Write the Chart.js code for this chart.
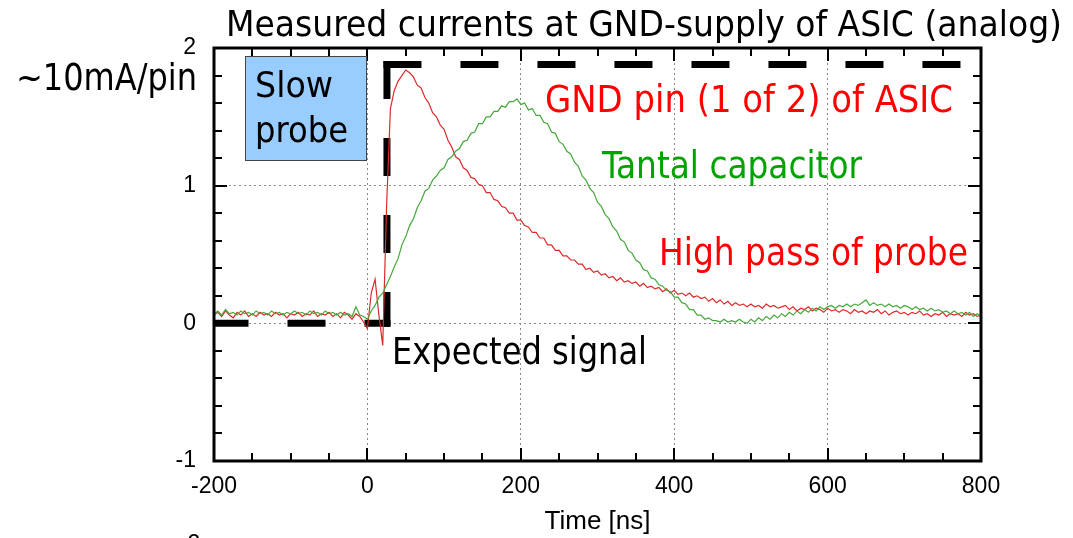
<!DOCTYPE html>
<html>
<head>
<meta charset="utf-8">
<script src="https://cdn.jsdelivr.net/npm/chart.js@4.4.1/dist/chart.umd.min.js"></script>
<style>
  html, body { margin: 0; padding: 0; background: #fff; }
  #wrap { width: 1073px; height: 538px; position: relative; }
</style>
</head>
<body>
<div id="wrap"><canvas id="chart" width="1073" height="538"></canvas></div>
<script>
// sample grid of the scope traces (ns)
const tStart = -200;
const tStep = 5;

// GND pin (1 of 2) of ASIC, every 5 ns
const gndPin = [
  0.06,0.08,0.05,0.09,0.06,0.04,0.08,0.06,0.09,0.05,
  0.07,0.05,0.08,0.06,0.07,0.05,0.08,0.06,0.07,0.04,
  0.07,0.06,0.08,0.05,0.07,0.06,0.09,0.05,0.07,0.06,
  0.08,0.05,0.07,0.04,0.08,0.06,0.03,0.07,0.05,0.01,
  -0.04,0.22,0.32,0.06,-0.16,0.85,1.56,1.69,1.76,1.80,
  1.84,1.82,1.79,1.73,1.71,1.64,1.60,1.53,1.50,1.44,
  1.41,1.33,1.28,1.21,1.19,1.13,1.11,1.06,1.05,1.01,
  1.00,0.95,0.95,0.90,0.89,0.85,0.84,0.80,0.80,0.75,
  0.75,0.71,0.70,0.66,0.66,0.62,0.62,0.57,0.57,0.53,
  0.53,0.49,0.49,0.46,0.46,0.43,0.43,0.39,0.40,0.37,
  0.38,0.35,0.36,0.33,0.34,0.31,0.33,0.30,0.31,0.29,
  0.30,0.27,0.29,0.26,0.27,0.25,0.26,0.23,0.25,0.22,
  0.24,0.21,0.22,0.20,0.22,0.19,0.20,0.18,0.19,0.16,
  0.18,0.15,0.17,0.14,0.16,0.13,0.15,0.13,0.14,0.12,
  0.14,0.12,0.13,0.11,0.14,0.12,0.13,0.11,0.12,0.13,
  0.10,0.12,0.09,0.11,0.10,0.12,0.09,0.11,0.10,0.08,
  0.11,0.09,0.10,0.08,0.10,0.09,0.07,0.10,0.08,0.09,
  0.07,0.09,0.08,0.10,0.07,0.09,0.06,0.08,0.09,0.07,
  0.08,0.06,0.08,0.07,0.09,0.06,0.07,0.05,0.07,0.06,
  0.08,0.05,0.07,0.06,0.07,0.05,0.08,0.06,0.07,0.05,
  0.06
];

// Tantal capacitor
const tantal = [
  0.07,0.09,0.06,0.10,0.07,0.08,0.06,0.09,0.07,0.08,
  0.06,0.09,0.07,0.08,0.06,0.09,0.07,0.08,0.06,0.08,
  0.07,0.09,0.07,0.08,0.06,0.09,0.07,0.08,0.06,0.09,
  0.07,0.08,0.06,0.08,0.06,0.07,0.05,0.12,0.06,0.05,
  0.03,0.09,0.13,0.19,0.22,0.28,0.34,0.41,0.47,0.57,
  0.63,0.71,0.76,0.84,0.89,0.96,0.98,1.04,1.07,1.11,
  1.13,1.19,1.21,1.25,1.27,1.32,1.33,1.38,1.39,1.45,
  1.45,1.50,1.50,1.54,1.54,1.58,1.57,1.61,1.61,1.63,
  1.59,1.60,1.55,1.56,1.51,1.51,1.46,1.45,1.39,1.38,
  1.32,1.30,1.25,1.23,1.17,1.14,1.07,1.04,0.98,0.95,
  0.88,0.85,0.79,0.76,0.70,0.67,0.61,0.59,0.53,0.51,
  0.46,0.44,0.39,0.38,0.33,0.32,0.28,0.27,0.24,0.23,
  0.19,0.19,0.15,0.14,0.10,0.10,0.06,0.06,0.03,0.04,
  0.02,0.02,0.01,0.03,0.01,0.02,0.01,0.03,0.01,0.00,
  0.03,0.01,0.04,0.02,0.05,0.03,0.06,0.04,0.07,0.05,
  0.08,0.06,0.09,0.07,0.10,0.08,0.11,0.09,0.12,0.10,
  0.12,0.13,0.11,0.13,0.12,0.14,0.12,0.14,0.13,0.15,
  0.17,0.13,0.15,0.13,0.14,0.12,0.14,0.12,0.13,0.11,
  0.13,0.12,0.10,0.12,0.10,0.11,0.09,0.11,0.09,0.10,
  0.08,0.09,0.07,0.09,0.07,0.08,0.06,0.08,0.05,0.07,
  0.05
];

// expected signal: step at ~25 ns up to ~1.88
const expT = [-200, 25.5, 25.5, 800];
const expV = [0, 0, 1.88, 1.88];

const xTickLabels = [-200, 0, 200, 400, 600, 800];
const yTickLabels = [-1, 0, 1, 2];

const toPoints = vals => vals.map((v, i) => ({ x: tStart + i * tStep, y: v }));
const expPts = expT.map((t, i) => ({ x: t, y: expV[i] }));

const labelFont = "'DejaVu Sans Condensed', 'DejaVu Sans', sans-serif";
const tickFont = "'Liberation Sans', Arial, sans-serif";

// stretch/squeeze a text to the width it has in the picture
function fitText(ctx, str, x, y, w, size, color, family) {
    ctx.font = size + 'px ' + (family || labelFont);
    ctx.fillStyle = color;
    ctx.textAlign = 'left';
    ctx.textBaseline = 'alphabetic';
    const m = ctx.measureText(str).width;
    ctx.save();
    ctx.translate(x, y);
    ctx.scale(w / m, 1);
    ctx.fillText(str, 0, 0);
    ctx.restore();
}

const isMajor = (v, step) => Math.abs(v / step - Math.round(v / step)) < 1e-6;

const frame = {
    id: 'frame',
    afterDraw(chart) {
        const { ctx, chartArea: a, scales: { x, y } } = chart;
        ctx.save();
        // inward ticks on all four sides
        ctx.strokeStyle = '#000';
        ctx.lineWidth = 2;
        ctx.beginPath();
        x.ticks.forEach(t => {
            const px = Math.round(x.getPixelForValue(t.value));
            const len = isMajor(t.value, 200) ? 13 : 8;
            ctx.moveTo(px, a.bottom); ctx.lineTo(px, a.bottom - len);
            ctx.moveTo(px, a.top); ctx.lineTo(px, a.top + len);
        });
        y.ticks.forEach(t => {
            const py = Math.round(y.getPixelForValue(t.value));
            const len = isMajor(t.value, 1) ? 13 : 8;
            ctx.moveTo(a.left, py); ctx.lineTo(a.left + len, py);
            ctx.moveTo(a.right, py); ctx.lineTo(a.right - len, py);
        });
        ctx.stroke();
        ctx.lineWidth = 3;
        ctx.strokeRect(a.left, a.top, a.right - a.left, a.bottom - a.top);

        // "Slow probe" box
        ctx.fillStyle = '#99ccff';
        ctx.fillRect(245, 56, 121, 104);
        ctx.strokeStyle = '#444';
        ctx.lineWidth = 1;
        ctx.strokeRect(245.5, 56.5, 121, 104);
        ctx.restore();

        fitText(ctx, 'Measured currents at GND-supply of ASIC (analog)', 226, 36, 836, 35, '#000');
        fitText(ctx, '~10mA/pin', 16, 90, 181, 38, '#000');
        fitText(ctx, 'Slow', 255, 97, 78, 36, '#000');
        fitText(ctx, 'probe', 255, 142, 93, 36, '#000');
        fitText(ctx, 'GND pin (1 of 2) of ASIC', 545, 112, 408, 37, '#ff0000');
        fitText(ctx, 'Tantal capacitor', 602, 178, 260, 37, '#00a400');
        fitText(ctx, 'High pass of probe', 659, 265, 309, 37, '#ff0000');
        fitText(ctx, 'Expected signal', 392, 364, 255, 37, '#000');

        ctx.save();
        ctx.font = '23px ' + tickFont;
        ctx.fillStyle = '#000';
        ctx.textAlign = 'center';
        ctx.fillText('2', 194, 551);
        ctx.restore();
    }
};

const dashStyle = { borderColor: '#000', borderWidth: 7, borderDash: [31, 46], borderCapStyle: 'square', pointRadius: 0 };

new Chart(document.getElementById('chart'), {
    type: 'line',
    data: {
        datasets: [
            { data: toPoints(tantal), borderColor: '#45a83a', borderWidth: 1.2, pointRadius: 0 },
            { data: toPoints(gndPin), borderColor: '#dd2a2a', borderWidth: 1.2, pointRadius: 0 },
            Object.assign({ data: [expPts[0], expPts[1]] }, dashStyle),
            Object.assign({ data: [expPts[2], expPts[1]] }, dashStyle),
            Object.assign({ data: [expPts[2], expPts[3]] }, dashStyle)
        ]
    },
    options: {
        responsive: false,
        devicePixelRatio: 1,
        animation: false,
        events: [],
        layout: { padding: { top: 48, right: 92, left: 0, bottom: 0 } },
        plugins: { legend: { display: false }, tooltip: { enabled: false } },
        scales: {
            x: {
                type: 'linear', min: -200, max: 800,
                afterFit: s => { s.height = 77; },
                border: { display: false, dash: [2, 3] },
                grid: {
                    drawTicks: false,
                    color: c => (isMajor(c.tick.value, 200) && c.tick.value > -200 && c.tick.value < 800) ? '#8a8a8a' : 'rgba(0,0,0,0)',
                    lineWidth: 1
                },
                ticks: {
                    stepSize: 50, autoSkip: false, maxRotation: 0, padding: 12,
                    color: '#000', font: { family: tickFont, size: 23 },
                    callback: v => xTickLabels.includes(v) ? String(v) : ''
                },
                title: {
                    display: true, text: 'Time [ns]', color: '#000',
                    font: { family: "'Liberation Sans Narrow', " + tickFont, size: 26 },
                    padding: { top: 0, bottom: 1 }
                }
            },
            y: {
                type: 'linear', min: -1, max: 2,
                afterFit: s => { s.width = 214; },
                border: { display: false, dash: [2, 3] },
                grid: {
                    drawTicks: false,
                    color: c => (isMajor(c.tick.value, 1) && c.tick.value > -1 && c.tick.value < 2) ? '#8a8a8a' : 'rgba(0,0,0,0)',
                    lineWidth: 1
                },
                ticks: {
                    stepSize: 0.2, autoSkip: false, padding: 18,
                    color: '#000', font: { family: tickFont, size: 23 },
                    callback: v => {
                        const r = Math.round(v);
                        return (Math.abs(v - r) < 1e-6 && yTickLabels.includes(r)) ? String(r) : '';
                    }
                }
            }
        }
    },
    plugins: [frame]
});
</script>
</body>
</html>
